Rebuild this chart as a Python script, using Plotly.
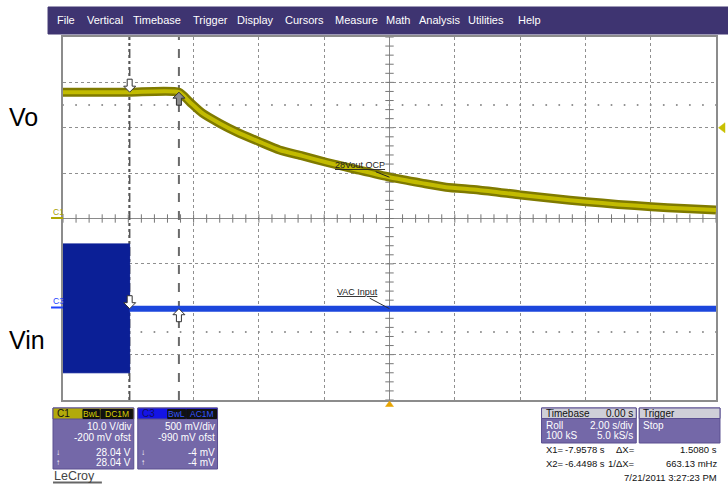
import numpy as np
import plotly.graph_objects as go

# ---------------- data ----------------
vo_time = [-10, -8, -6.45, -6.12, -5.73, -5.21, -4.69, -3.98, -3.37, -2.67, -1.94,
           -1.02, 0, 0.99, 1.73, 2.73, 4.02, 5.02, 6.03, 7.0, 8.02, 9.02, 10.0]
vo_volts = [28.04, 28.04, 28.04, 25.9, 23.4, 21.2, 19.3, 17.1, 15.3, 14.0, 12.6,
            11.0, 9.3, 8.0, 7.1, 6.5, 5.4, 4.6, 3.9, 3.3, 2.8, 2.4, 2.1]
vin_burst_time = [-10, -7.96]
vin_burst_peak = [0.71, -0.71]          # +/- envelope of the AC input burst (V)
vin_time = [-7.96, 10]
vin_volts = [-0.004, -0.004]
cursor_x1 = -7.9578
cursor_x2 = -6.4498
c1_scale, c1_offset = 10.0, -0.2        # V/div, offset V
c3_scale, c3_offset = 0.5, -0.99
trigger_level_div = 2.0
menu_items = ["File", "Vertical", "Timebase", "Trigger", "Display", "Cursors",
              "Measure", "Math", "Analysis", "Utilities", "Help"]

# -------------- helpers ----------------
def c1(v):
    return [(x + c1_offset) / c1_scale for x in v]

def c3(v):
    return [(x + c3_offset) / c3_scale for x in v]

L, R, T, B = 63, 718, 37, 400   # plot frame in screenshot pixels
W, H = 728, 486

def xp(px):
    return (px - L) / (R - L)

def yp(py):
    return (B - py) / (B - T)

SX = 20 / (R - L)   # seconds per pixel
SY = 8 / (B - T)    # div per pixel

FONT = "Arial"
OLIVE_D = "#7f7a00"
OLIVE_L = "#c2bb00"
BLUE_D = "#0b1f96"
BLUE_L = "#1c46dc"
PANEL = "#7468a8"

fig = go.Figure()

# sparse dotted rows
dx = np.arange(-10, 10.001, 0.4)
for yy in (2.5, -2.5):
    fig.add_trace(go.Scatter(x=dx, y=[yy] * len(dx), mode="markers",
                             marker=dict(size=2, color="#8a8a8a"), hoverinfo="skip"))
# center axis ticks
ty = np.arange(-4, 4.001, 0.2)
fig.add_trace(go.Scatter(x=[0] * len(ty), y=ty, mode="markers",
                         marker=dict(symbol="line-ew", size=6, line=dict(width=1, color="#777")),
                         hoverinfo="skip"))
tx = np.arange(-10, 10.001, 0.4)
fig.add_trace(go.Scatter(x=tx, y=[0] * len(tx), mode="markers",
                         marker=dict(symbol="line-ns", size=6, line=dict(width=1, color="#777")),
                         hoverinfo="skip"))

# cursors
fig.add_trace(go.Scatter(x=[cursor_x1, cursor_x1], y=[-4, 4], mode="lines",
                         line=dict(color="#555", width=1.5, dash="dashdot"), hoverinfo="skip"))
fig.add_trace(go.Scatter(x=[cursor_x2, cursor_x2], y=[-4, 4], mode="lines",
                         line=dict(color="#6a6a6a", width=2, dash="dash"), hoverinfo="skip"))

# Vin burst (filled envelope) and flat line
hi = c3([vin_burst_peak[0]])[0]
lo = c3([vin_burst_peak[1]])[0]
fig.add_trace(go.Scatter(x=[vin_burst_time[0], vin_burst_time[1], vin_burst_time[1], vin_burst_time[0]],
                         y=[hi, hi, lo, lo], fill="toself", fillcolor=BLUE_D,
                         mode="lines", line=dict(color=BLUE_D, width=1), hoverinfo="skip"))
fig.add_trace(go.Scatter(x=vin_time, y=c3(vin_volts), mode="lines",
                         line=dict(color=BLUE_L, width=6), hoverinfo="skip"))

# Vo trace (dark band + lighter core)
fig.add_trace(go.Scatter(x=vo_time, y=c1(vo_volts), mode="lines",
                         line=dict(color=OLIVE_D, width=9, shape="spline", smoothing=0.6),
                         hoverinfo="skip"))
fig.add_trace(go.Scatter(x=vo_time, y=c1(vo_volts), mode="lines",
                         line=dict(color=OLIVE_L, width=4, shape="spline", smoothing=0.6),
                         hoverinfo="skip"))

shapes = []
annotations = []

def block_arrow(t, yd, down, fill):
    pts = [(0, 0), (-6, 6), (-2.5, 6), (-2.5, 13), (2.5, 13), (2.5, 6), (6, 6)]
    s = 1 if down else -1
    path = ""
    for i, (a, b) in enumerate(pts):
        path += ("M" if i == 0 else "L") + f"{t + a * SX},{yd + s * b * SY} "
    path += "Z"
    shapes.append(dict(type="path", xref="x", yref="y", path=path, fillcolor=fill,
                       line=dict(color="#333", width=1), layer="above"))

vo_c = c1([vo_volts[0]])[0]
vin_c = c3([vin_volts[0]])[0]
block_arrow(cursor_x1, vo_c, True, "white")
block_arrow(cursor_x2, vo_c, False, "#8c8c8c")
block_arrow(cursor_x1, vin_c, True, "white")
block_arrow(cursor_x2, vin_c, False, "white")

def rect(x0, y0, x1, y1, fill, line=None, lw=1):
    shapes.append(dict(type="rect", xref="paper", yref="paper",
                       x0=xp(x0), x1=xp(x1), y0=yp(y1), y1=yp(y0),
                       fillcolor=fill, line=dict(color=line or fill, width=lw), layer="above"))

def hline(x0, x1, y, color, w=1):
    shapes.append(dict(type="line", xref="paper", yref="paper",
                       x0=xp(x0), x1=xp(x1), y0=yp(y), y1=yp(y),
                       line=dict(color=color, width=w), layer="above"))

def poly(points, fill):
    path = ""
    for i, (a, b) in enumerate(points):
        path += ("M" if i == 0 else "L") + f"{xp(a)},{yp(b)} "
    shapes.append(dict(type="path", xref="paper", yref="paper", path=path + "Z",
                       fillcolor=fill, line=dict(color=fill, width=0.5), layer="above"))

def text(px, py, s, size=10, color="white", anchor="left", family=FONT):
    annotations.append(dict(xref="paper", yref="paper", x=xp(px), y=yp(py), text=s,
                            showarrow=False, xanchor=anchor, yanchor="middle",
                            borderpad=0, font=dict(family=family, size=size, color=color)))

# trigger level marker (right edge) and trigger position marker (bottom)
ty_px = B - (trigger_level_div + 4) / SY
poly([(720.5, ty_px), (727, ty_px - 5), (727, ty_px + 5)], "#c8c000")
tx_px = L + (0 + 10) / SX
poly([(tx_px, 401), (tx_px - 4, 406.5), (tx_px + 4, 406.5)], "#e8a400")

# menu bar
rect(48, 7, 740, 34, "#3e3471")
menu_x = [56, 86, 132, 192, 237, 285, 335, 386, 419, 468, 518]
for name, mx in zip(menu_items, menu_x):
    text(mx, 20, name, size=11, color="white")

# Vo / Vin labels
text(8, 117, "Vo", size=25, color="black")
text(8, 340, "Vin", size=25, color="black")

# channel ground markers
text(52, 212, "C1", size=8.5, color="#a8a000")
hline(51, 63, 218, "#b0a800", 2)
text(52, 301, "C3", size=8.5, color="#2244ff")
hline(51, 63, 307.5, "#2244ff", 2)

# trace annotations
annotations.append(dict(x=0, y=c1([vo_volts[12]])[0], xref="x", yref="y",
                        text="<u>28Vout OCP</u>", showarrow=True, arrowhead=0,
                        arrowwidth=1, arrowcolor="#222", ax=-30, ay=-12,
                        font=dict(family=FONT, size=9, color="#222")))
annotations.append(dict(x=0, y=vin_c, xref="x", yref="y",
                        text="<u>VAC Input</u>", showarrow=True, arrowhead=0,
                        arrowwidth=1, arrowcolor="#333", ax=-32, ay=-17,
                        font=dict(family=FONT, size=9, color="#222")))

# C1 panel
rect(53, 408, 134, 469, PANEL, "#5a4e90")
rect(53, 408, 134, 419, "#b2aa0a", "#5a4e90")
text(56, 413.5, "C1", size=10, color="#111")
rect(83, 409.5, 99.5, 418.5, "#111")
text(91.2, 414, "BwL", size=8.5, color="#d8d000", anchor="center")
rect(101, 409.5, 133, 418.5, "#111")
text(117, 414, "DC1M", size=8.5, color="#d8d000", anchor="center")
text(132, 426.5, "10.0 V/div", size=10, anchor="right")
text(132, 437.5, "-200 mV ofst", size=10, anchor="right")
text(132, 452, "28.04 V", size=10, anchor="right")
text(132, 462.5, "28.04 V", size=10, anchor="right")
text(55, 452, "↓", size=8)
text(55, 462.5, "↑", size=8)

# C3 panel
rect(138, 408, 218, 469, PANEL, "#5a4e90")
rect(138, 408, 218, 419, "#1414e6", "#5a4e90")
text(141, 413.5, "C3", size=10, color="#101060")
rect(168, 409.5, 186, 418.5, "#111")
text(177, 414, "BwL", size=8.5, color="#3355ff", anchor="center")
rect(187, 409.5, 217, 418.5, "#111")
text(202, 414, "AC1M", size=8.5, color="#3355ff", anchor="center")
text(216, 426.5, "500 mV/div", size=10, anchor="right")
text(216, 437.5, "-990 mV ofst", size=10, anchor="right")
text(216, 452, "-4 mV", size=10, anchor="right")
text(216, 462.5, "-4 mV", size=10, anchor="right")
text(140, 452, "↓", size=8)
text(140, 462.5, "↑", size=8)

# LeCroy logo
text(53, 476, "LeCroy", size=12.5, color="#444")
hline(53, 102, 482.5, "#666", 2)

# Timebase / Trigger panels
rect(543, 408, 638, 443, PANEL, "#5a4e90")
rect(543, 408, 638, 418.5, "#cfcfd8", "#5a4e90")
text(546, 413.5, "Timebase", size=10, color="#111")
text(636, 413.5, "0.00 s", size=10, color="#111", anchor="right")
text(546, 425.5, "Roll", size=10)
text(636, 425.5, "2.00 s/div", size=10, anchor="right")
text(546, 435.5, "100 kS", size=10)
text(636, 435.5, "5.0 kS/s", size=10, anchor="right")
rect(641, 408, 722, 443, PANEL, "#5a4e90")
rect(641, 408, 722, 418.5, "#cfcfd8", "#5a4e90")
text(644, 413.5, "Trigger", size=10, color="#111")
text(644, 425.5, "Stop", size=10)

# cursor readouts
RS = 9.5
text(546, 449.5, "X1=", size=RS, color="#111")
text(608, 449.5, "%.4f s" % cursor_x1, size=RS, color="#111", anchor="right")
text(617, 449.5, "ΔX=", size=RS, color="#111")
text(720, 449.5, "%.4f s" % (cursor_x2 - cursor_x1), size=RS, color="#111", anchor="right")
text(546, 463, "X2=", size=RS, color="#111")
text(608, 463, "%.4f s" % cursor_x2, size=RS, color="#111", anchor="right")
text(609, 463, "1/ΔX=", size=RS, color="#111")
text(720, 463, "%.2f mHz" % (1000 / (cursor_x2 - cursor_x1)), size=RS, color="#111", anchor="right")
text(720, 477, "7/21/2011 3:27:23 PM", size=RS, color="#111", anchor="right")

axis_common = dict(showgrid=True, gridcolor="#8f8f8f", griddash="dot", gridwidth=1,
                   zeroline=True, zerolinecolor="#8a8a8a", zerolinewidth=1,
                   showticklabels=False, ticks="", showline=True, mirror=True,
                   linecolor="#8c8c8c", linewidth=1.5, fixedrange=True)

fig.update_layout(
    width=W, height=H, autosize=False,
    margin=dict(l=L, r=W - R, t=T, b=H - B, pad=0),
    paper_bgcolor="white", plot_bgcolor="white",
    showlegend=False,
    xaxis=dict(range=[-10, 10], dtick=2, **axis_common),
    yaxis=dict(range=[-4, 4], dtick=1, **axis_common),
    shapes=shapes, annotations=annotations,
)

fig.write_html("out.html", config={"displayModeBar": False},
               post_script="document.body.style.margin='0';document.body.style.overflow='hidden';")
